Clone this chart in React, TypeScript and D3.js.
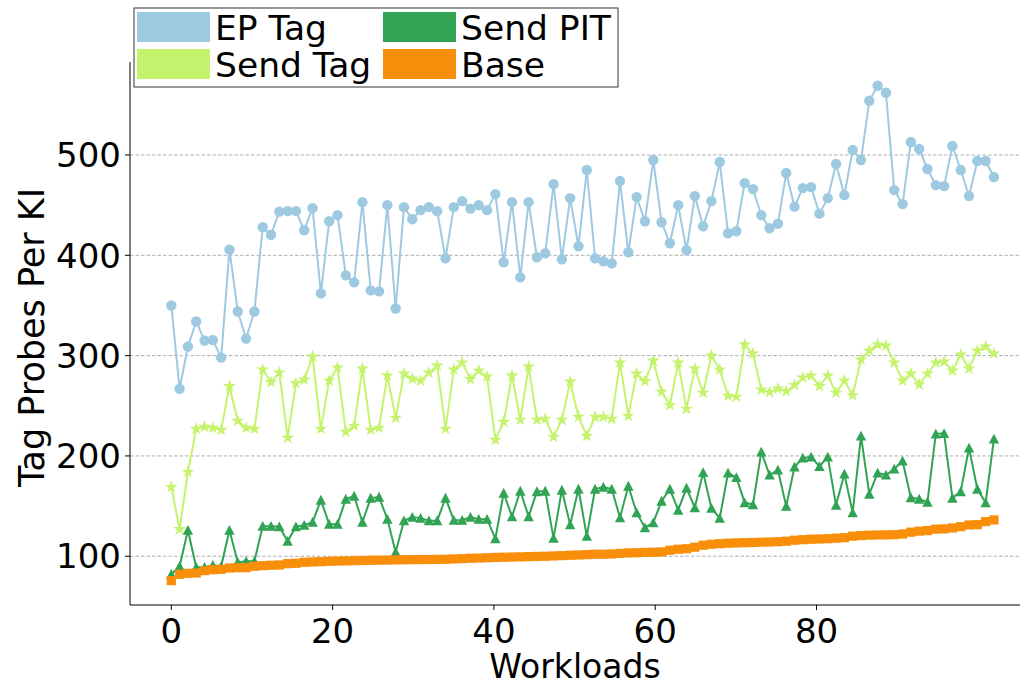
import React from 'react';
import * as d3 from 'd3';

const epTag = [350, 267, 309, 334, 315, 315.5, 298, 405.6, 344, 317, 344, 428, 420.5, 443.5, 444, 444, 425, 447, 362, 434, 440, 380, 373, 453, 365, 364, 450, 347, 448, 436, 445, 448, 444, 397, 448, 454, 446.5, 450, 445, 461, 393, 453, 378, 453, 398, 402, 471, 396, 457, 409, 485, 397, 394, 392, 474, 403, 458, 434, 495, 433, 412, 450, 405, 459, 429, 454, 493, 422, 424, 472, 466, 440, 427, 431.5, 482, 448.5, 467, 468, 441.5, 457, 491, 460, 505, 495, 554, 569, 562, 465, 451, 513, 506, 486, 470, 469, 509, 485, 459, 494, 494, 478];
const sendTag = [169, 127, 184, 227, 229, 228, 226, 269.5, 235, 228, 227, 286, 273.5, 283, 218, 272.5, 276, 299, 227, 275, 288, 224, 230, 287, 226, 228, 280, 238, 282, 277, 275, 283, 290, 227, 286, 293, 276.5, 285, 279, 216, 234, 280, 236, 289, 236, 237, 219, 236, 274, 239, 220, 239, 239, 237, 293, 240, 282, 274.5, 295, 264, 250.5, 293, 247, 287, 263, 300, 286, 260, 259, 311, 302, 266, 263.5, 267, 264.5, 270.5, 278, 280, 269.5, 280, 263, 275, 260.5, 296, 305, 311, 310, 293, 275, 282, 271, 282, 293, 294, 285, 301, 287, 305, 309, 302];
const sendPIT = [82, 90, 126, 89, 89, 91, 90, 126, 94, 95, 95, 130, 130, 129.5, 115, 129.5, 131, 134, 156, 132, 132, 157, 160, 134, 158, 159, 137, 104, 135.5, 139, 138, 135.5, 135.5, 158, 136, 136, 139, 137, 137, 117.5, 163, 139.5, 165, 139.5, 164.5, 165, 118, 166, 131.5, 167, 120, 167, 169, 167, 138.5, 170, 143.5, 128.5, 133.5, 155, 167, 146, 168, 148.5, 183.5, 148, 138, 183, 178.5, 153.5, 151.5, 204, 181, 186, 150, 189, 198, 199, 189.5, 199, 151, 182, 143.5, 220, 162, 183, 181, 187, 195, 158.5, 157, 154, 222, 222.5, 158, 164.5, 208, 167, 153.5, 217];
const base = [75.7, 82, 83, 83.3, 85.6, 86.6, 87, 88.3, 88.6, 88.6, 90, 90.6, 91, 91.3, 92.6, 93, 94, 94.3, 94.6, 95, 95.2, 95.4, 95.6, 95.8, 96, 96.1, 96.2, 96.4, 96.5, 96.6, 96.7, 96.8, 96.9, 97, 97.3, 97.6, 98, 98.2, 98.5, 98.8, 99, 99.2, 99.4, 99.6, 99.8, 100, 100.3, 100.6, 101, 101.3, 101.6, 102, 102, 102.3, 102.8, 103.3, 103.5, 103.8, 104, 104.3, 106, 107, 107.5, 109, 111, 112, 112.5, 113, 113.3, 113.5, 113.7, 114, 114.2, 114.5, 115, 116, 116.5, 117, 117.2, 117.5, 118, 118.5, 120, 120.6, 121, 121.2, 121.3, 121.5, 122.2, 124, 125, 125.6, 127, 127.3, 128.2, 129.5, 131.2, 131.5, 134.5, 136.2];

// the 100 workloads are spread evenly over 0..102 on the x axis
const workloadX = d3.range(epTag.length).map(i => (i * 102) / (epTag.length - 1));

const xTicks = [0, 20, 40, 60, 80];
const yTicks = [100, 200, 300, 400, 500];

const seriesNames = ['EP Tag', 'Send Tag', 'Send PIT', 'Base'];
const colors = ['#9ecae1', '#c5f36d', '#31a354', '#f98e0a'];

const width = 1023;
const height = 685;
const left = 130, right = 1020, top = 62, bottom = 605;
const font = 'DejaVu Sans, sans-serif';

const App: React.FC = () => {
    const x = d3.scaleLinear().domain([-5.12, 105.23]).range([left, right]);
    const y = d3.scaleLinear().domain([51.4, 592.7]).range([bottom, top]);

    const line = d3.line<number>()
        .x((d, i) => x(workloadX[i]))
        .y(d => y(d));

    const star = d3.symbol().type(d3.symbolStar).size(52)() as string;
    const tri = 'M0,-5.2L-5.2,4.6L5.2,4.6Z';

    const allSeries = [epTag, sendTag, sendPIT, base];

    const marker = (k: number, cx: number, cy: number, key: number) => {
        const c = colors[k];
        if (k === 0) return <circle key={key} cx={cx} cy={cy} r={5.2} fill={c} />;
        if (k === 1) return <path key={key} d={star} transform={`translate(${cx},${cy})`} fill={c} />;
        if (k === 2) return <path key={key} d={tri} transform={`translate(${cx},${cy})`} fill={c} />;
        return <rect key={key} x={cx - 4.6} y={cy - 4.6} width={9.2} height={9.2} fill={c} />;
    };

    // legend: two columns, filled column-first
    const legendItems = [
        { name: seriesNames[0], color: colors[0], lx: 137, ly: 12 },
        { name: seriesNames[1], color: colors[1], lx: 137, ly: 49 },
        { name: seriesNames[2], color: colors[2], lx: 383, ly: 12 },
        { name: seriesNames[3], color: colors[3], lx: 383, ly: 49 },
    ];

    return (
        <svg width={width} height={height} style={{ position: 'absolute', left: 0, top: 0, background: 'white' }}>
            {/* grid */}
            {yTicks.map(t => (
                <line key={t} x1={left} x2={right} y1={y(t)} y2={y(t)} stroke="#b0b0b0" strokeWidth={1} strokeDasharray="3.5,2" />
            ))}

            {/* series */}
            {allSeries.map((s, k) => (
                <g key={k}>
                    <path d={line(s) as string} fill="none" stroke={colors[k]} strokeWidth={2} />
                    {s.map((v, i) => marker(k, x(workloadX[i]), y(v), i))}
                </g>
            ))}

            {/* axes */}
            <line x1={left} x2={left} y1={top} y2={bottom} stroke="#000" strokeWidth={1} />
            <line x1={left} x2={right} y1={bottom} y2={bottom} stroke="#000" strokeWidth={1} />
            {yTicks.map(t => (
                <g key={t}>
                    <line x1={left - 5} x2={left} y1={y(t)} y2={y(t)} stroke="#000" />
                    <text x={left - 9} y={y(t)} dy="0.36em" textAnchor="end" fontFamily={font} fontSize={34}>{t}</text>
                </g>
            ))}
            {xTicks.map(t => (
                <g key={t}>
                    <line x1={x(t)} x2={x(t)} y1={bottom} y2={bottom + 5} stroke="#000" />
                    <text x={x(t)} y={bottom + 38} textAnchor="middle" fontFamily={font} fontSize={34}>{t}</text>
                </g>
            ))}
            <text x={575} y={678} textAnchor="middle" fontFamily={font} fontSize={33}>Workloads</text>
            <text transform={`translate(44,${(top + bottom) / 2 + 4}) rotate(-90)`} textAnchor="middle" fontFamily={font} fontSize={35}>Tag Probes Per KI</text>

            {/* legend */}
            <rect x={134} y={8} width={484} height={79} fill="white" stroke="#333" strokeWidth={1} />
            {legendItems.map(it => (
                <g key={it.name}>
                    <rect x={it.lx} y={it.ly} width={73} height={30} fill={it.color} />
                    <text x={it.lx + 78} y={it.ly + 28} fontFamily={font} fontSize={34.5}>{it.name}</text>
                </g>
            ))}
        </svg>
    );
};

export default App;
